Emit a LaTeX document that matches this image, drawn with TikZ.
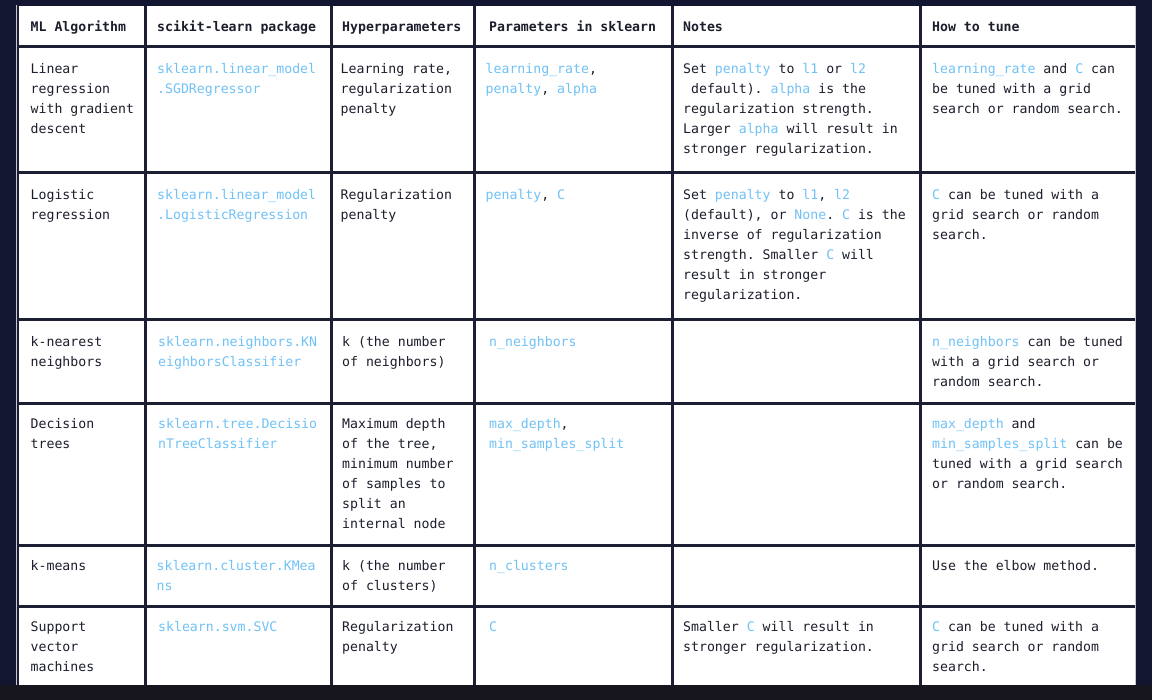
\documentclass[tikz,border=0pt]{standalone}
\usepackage{fontspec}
\usepackage{xcolor}
\newfontfamily\tablefont{DejaVu Sans Mono}
\definecolor{pagenavy}{RGB}{18,22,49}
\definecolor{footstrip}{RGB}{23,22,31}
\definecolor{gridrule}{RGB}{28,31,52}
\definecolor{edgegray}{RGB}{196,198,208}
\definecolor{ink}{RGB}{28,30,44}
\definecolor{codeblue}{RGB}{112,194,246}
\newcommand{\code}[1]{\textcolor{codeblue}{#1}}
\frenchspacing

\begin{document}
\begin{tikzpicture}[x=1pt,y=-1pt]
        \tikzstyle{every node}+=[inner sep=0pt]
        \tikzstyle{cell}=[anchor=north west, align=left, text=ink, font=\tablefont\fontsize{13.2}{20}\selectfont]
        \tikzstyle{head}=[cell, font=\tablefont\bfseries\fontsize{13.2}{20}\selectfont]
        \useasboundingbox (0,0) rectangle (1152,700);
        \fill [pagenavy] (0,0) rectangle (1152,700);
        \fill [white] (19,6) rectangle (1135,685);
        % table edges
        \draw [edgegray, line width=1.2pt] (16.6,5) -- (16.6,685);
        \draw [gridrule, line width=2pt] (18.2,6) -- (18.2,685);
        \draw [edgegray, line width=1pt] (1135.6,6) -- (1135.6,685);
        % column rules
        \draw [gridrule, line width=3pt] (145.7,6) -- (145.7,685);
        \draw [gridrule, line width=3pt] (331.7,6) -- (331.7,685);
        \draw [gridrule, line width=3pt] (474,6) -- (474,685);
        \draw [gridrule, line width=3pt] (672.3,6) -- (672.3,685);
        \draw [gridrule, line width=3pt] (920.7,6) -- (920.7,685);
        % row rules
        \draw [gridrule, line width=3pt] (17,46.7) -- (1135,46.7);
        \draw [gridrule, line width=3pt] (17,172.3) -- (1135,172.3);
        \draw [gridrule, line width=3pt] (17,320) -- (1135,320);
        \draw [gridrule, line width=3pt] (17,404) -- (1135,404);
        \draw [gridrule, line width=3pt] (17,545.3) -- (1135,545.3);
        \draw [gridrule, line width=3pt] (17,606) -- (1135,606);
        % header
        \node [head] (h1) at (30.5,17.5) {\strut ML Algorithm};
        \node [head] (h2) at (157,17.5) {\strut scikit-learn package};
        \node [head] (h3) at (342,17.5) {\strut Hyperparameters};
        \node [head] (h4) at (489,17.5) {\strut Parameters in sklearn};
        \node [head] (h5) at (683,17.5) {\strut Notes};
        \node [head] (h6) at (932,17.5) {\strut How to tune};
        % linear regression
        \node [cell] (r1c1) at (30.5,59.3) {\strut Linear\\regression\\with gradient\\descent};
        \node [cell] (r1c2) at (157,59.3) {\strut\code{sklearn.linear\_model}\\\code{.SGDRegressor}};
        \node [cell] (r1c3) at (340.5,59.3) {\strut Learning rate,\\regularization\\penalty};
        \node [cell] (r1c4) at (485.5,59.3) {\strut\code{learning\_rate},\\\code{penalty}, \code{alpha}};
        \node [cell] (r1c5) at (683,59.3) {\strut Set \code{penalty} to \code{l1} or \code{l2}\\\phantom{(}default). \code{alpha} is the\\regularization strength.\\Larger \code{alpha} will result in\\stronger regularization.};
        \node [cell] (r1c6) at (932,59.3) {\strut\code{learning\_rate} and \code{C} can\\be tuned with a grid\\search or random search.};
        % logistic regression
        \node [cell] (r2c1) at (30.5,185.3) {\strut Logistic\\regression};
        \node [cell] (r2c2) at (157,185.3) {\strut\code{sklearn.linear\_model}\\\code{.LogisticRegression}};
        \node [cell] (r2c3) at (340.5,185.3) {\strut Regularization\\penalty};
        \node [cell] (r2c4) at (485.5,185.3) {\strut\code{penalty}, \code{C}};
        \node [cell] (r2c5) at (683,185.3) {\strut Set \code{penalty} to \code{l1}, \code{l2}\\(default), or \code{None}. \code{C} is the\\inverse of regularization\\strength. Smaller \code{C} will\\result in stronger\\regularization.};
        \node [cell] (r2c6) at (932,185.3) {\strut\code{C} can be tuned with a\\grid search or random\\search.};
        % k-nearest neighbors
        \node [cell] (r3c1) at (30.5,332) {\strut k-nearest\\neighbors};
        \node [cell] (r3c2) at (158,332) {\strut\code{sklearn.neighbors.KN}\\\code{eighborsClassifier}};
        \node [cell] (r3c3) at (342,332) {\strut k (the number\\of neighbors)};
        \node [cell] (r3c4) at (489,332) {\strut\code{n\_neighbors}};
        \node [cell] (r3c6) at (932,332) {\strut\code{n\_neighbors} can be tuned\\with a grid search or\\random search.};
        % decision trees
        \node [cell] (r4c1) at (30.5,414.3) {\strut Decision\\trees};
        \node [cell] (r4c2) at (158,414.3) {\strut\code{sklearn.tree.Decisio}\\\code{nTreeClassifier}};
        \node [cell] (r4c3) at (342,414.3) {\strut Maximum depth\\of the tree,\\minimum number\\of samples to\\split an\\internal node};
        \node [cell] (r4c4) at (489,414.3) {\strut\code{max\_depth},\\\code{min\_samples\_split}};
        \node [cell] (r4c6) at (932,414.3) {\strut\code{max\_depth} and\\\code{min\_samples\_split} can be\\tuned with a grid search\\or random search.};
        % k-means
        \node [cell] (r5c1) at (30.5,556.3) {\strut k-means};
        \node [cell] (r5c2) at (156.5,556.3) {\strut\code{sklearn.cluster.KMea}\\\code{ns}};
        \node [cell] (r5c3) at (342,556.3) {\strut k (the number\\of clusters)};
        \node [cell] (r5c4) at (489,556.3) {\strut\code{n\_clusters}};
        \node [cell] (r5c6) at (932,556.3) {\strut Use the elbow method.};
        % support vector machines
        \node [cell] (r6c1) at (30.5,617) {\strut Support\\vector\\machines};
        \node [cell] (r6c2) at (158,617) {\strut\code{sklearn.svm.SVC}};
        \node [cell] (r6c3) at (342,617) {\strut Regularization\\penalty};
        \node [cell] (r6c4) at (489,617) {\strut\code{C}};
        \node [cell] (r6c5) at (683,617) {\strut Smaller \code{C} will result in\\stronger regularization.};
        \node [cell] (r6c6) at (932,617) {\strut\code{C} can be tuned with a\\grid search or random\\search.};
        % bottom strip
        \fill [footstrip] (0,685) rectangle (1152,700);
\end{tikzpicture}
\end{document}
